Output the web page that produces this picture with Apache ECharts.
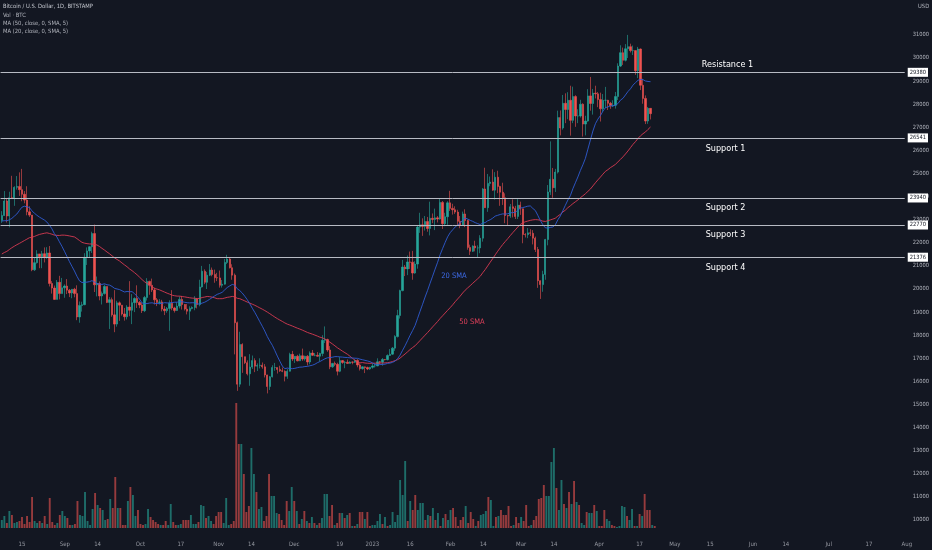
<!DOCTYPE html>
<html>
<head>
<meta charset="utf-8">
<script src="https://cdn.jsdelivr.net/npm/echarts/dist/echarts.min.js"></script>
<style>
html,body{margin:0;padding:0;background:#131722;}
#chart{width:932px;height:550px;}
</style>
</head>
<body>
<div id="chart"></div>
<script>
// ---------- DATA ----------
// x axis: one category per day, from 2022-08-07 for 361 days (to 2023-08-02)
const startDate = [2022, 7, 7];
const dayCount = 361;

// closes before the first visible candle (2022-06-17 .. 2022-08-06), used only for the moving averages
const preCloses = [20450,19000,20550,20710,20000,19990,21090,21230,21490,21040,20730,20280,20100,19930,
  19290,19250,19300,20230,20190,20550,21630,21590,21590,20840,19960,19330,20220,20580,20830,21190,20780,
  22480,23390,23230,23160,22680,22460,22580,21310,21250,22950,23850,23780,23640,23300,
  23270,22990,22820,22630,23310,22960];

// daily candles [open, close, low, high]
const aug22 = [[22960,23180,22860,23370],[23180,23810,23160,24240],[23810,23160,22880,23930],[23160,23950,22670,24210],
  [23950,23930,23900,24900],[23930,24400,23600,24450],[24400,24440,24300,24890],[24440,24300,24030,25050],
  [24300,24100,23800,25200],[24100,23850,23710,24240],[23850,23340,23190,24450],[23340,23200,23120,23580],
  [23200,20830,20770,23200],[20830,21140,20780,21370],[21140,21520,21100,21680],[21520,21400,20900,21520],
  [21400,21530,20900,21650],[21530,21370,21150,21800],[21370,21560,21310,21810],[21560,20240,20110,21860],
  [20240,20040,19800,20340],[20040,19550,19540,20150],[19550,20290,19550,20390],[20290,19800,19550,20570],
  [19800,20050,19800,20480]];
const sep22 = [[20050,20130,19620,20200],[20130,19950,19780,20430],[19950,19830,19650,20000],[19830,19990,19600,20000],
  [19990,19800,19640,20050],[19800,18790,18650,20160],[18790,19290,18540,19460],[19290,19320,19020,19450],
  [19320,21370,19300,21550],[21370,21650,21040,21800],[21650,21830,21370,21850],[21830,22400,21560,22480],
  [22400,20180,19870,22790],[20180,20240,19680,20540],[20240,19700,19510,20330],[19700,19800,19330,19890],
  [19800,20110,19760,20190],[20110,19420,19390,20110],[19420,19540,18270,19650],[19540,18880,18800,19630],
  [18880,18480,18130,19950],[18480,19400,18370,19490],[19400,19300,18620,19460],[19300,18920,18850,19310],
  [18920,18800,18630,19180],[18800,19220,18680,19300],[19220,19080,18820,20340],[19080,19410,18480,19780],
  [19410,19590,19000,19640],[19590,19420,19180,20160]];
const oct22 = [[19420,19310,19170,19480],[19310,19060,18960,19400],[19060,19630,19000,19700],[19630,20330,19500,20470],
  [20330,20160,19750,20360],[20160,19960,19870,20450],[19960,19530,19330,20060],[19530,19420,19260,19610],
  [19420,19440,19330,19560],[19440,19130,19030,19530],[19130,19060,18870,19260],[19060,19160,18970,19220],
  [19160,19380,18190,19510],[19380,19180,19080,19950],[19180,19070,18980,19230],[19070,19260,19050,19420],
  [19260,19550,19160,19680],[19550,19330,19110,19700],[19330,19130,19070,19350],[19130,19040,18900,19350],
  [19040,19160,18660,19250],[19160,19200,19120,19250],[19200,19570,19080,19690],[19570,19330,19160,19600],
  [19330,20090,19250,20400],[20090,20770,20060,21000],[20770,20290,20210,20850],[20290,20600,20000,20740],
  [20600,20820,20560,21080],[20820,20630,20550,20930],[20630,20490,20270,20840]];
const nov22 = [[20490,20480,20340,20700],[20480,20160,20060,20800],[20160,20210,20060,20390],[20210,21150,20190,21300],
  [21150,21300,21080,21480],[21300,20920,20890,21370],[20920,20600,20400,21070],[20600,18540,17170,20670],
  [18540,15880,15590,18590],[15880,17600,15760,18150],[17600,17070,16370,17650],[17070,16810,16750,17070],
  [16810,16330,16260,16910],[16330,16620,15810,17180],[16620,16900,16540,17120],[16900,16660,16400,17000],
  [16660,16690,16450,16780],[16690,16700,16560,17000],[16700,16630,16550,16820],[16630,16280,16170,16750],
  [16280,15780,15480,16290],[15780,16200,15630,16230],[16200,16600,16170,16700],[16600,16600,16460,16800],
  [16600,16520,16340,16600],[16520,16460,16410,16680],[16460,16440,16400,16600],[16440,16220,16000,16480],
  [16220,16440,16110,16530],[16440,17170,16430,17240]];
const dec22 = [[17170,16970,16880,17320],[16970,17090,16800,17100],[17090,16890,16870,17150],[16890,17110,16880,17200],
  [17110,16970,16890,17420],[16970,17090,16900,17110],[17090,16840,16690,17140],[16840,17230,16740,17300],
  [17230,17130,17100,17360],[17130,17130,17090,17230],[17130,17090,17070,17270],[17090,17210,16870,17240],
  [17210,17780,17090,18000],[17780,17810,17660,18380],[17810,17360,17280,17850],[17360,16630,16530,17530],
  [16630,16780,16590,16800],[16780,16740,16660,16860],[16740,16440,16260,16810],[16440,16900,16400,17050],
  [16900,16820,16760,16920],[16820,16830,16570,16880],[16830,16780,16770,16950],[16780,16840,16780,16870],
  [16840,16830,16740,16860],[16830,16910,16800,16940],[16910,16710,16610,16960],[16710,16550,16470,16780],
  [16550,16630,16510,16650],[16630,16600,16360,16640],[16600,16540,16490,16640]];
const jan23 = [[16540,16610,16500,16630],[16610,16670,16550,16780],[16670,16670,16600,16770],[16670,16850,16660,17000],
  [16850,16830,16750,16880],[16830,16950,16680,17010],[16950,16940,16910,16970],[16940,17120,16910,17170],
  [17120,17180,17100,17400],[17180,17440,17150,17490],[17440,17940,17320,18000],[17940,18850,17900,19100],
  [18850,19930,18720,19970],[19930,20950,19900,21260],[20950,20870,20560,21040],[20870,21170,20600,21450],
  [21170,21160,20870,21620],[21160,20690,20400,21650],[20690,21080,20660,21200],[21080,22680,20880,22750],
  [22680,22780,22430,23300],[22780,22710,22300,23060],[22710,22920,22530,23160],[22920,22620,22480,23120],
  [22620,23060,22320,23780],[23060,23010,22850,23270],[23010,23080,22550,23480],[23080,23030,22880,23160],
  [23030,23750,23000,23930],[23750,22830,22600,23810],[22830,23130,22720,23300]];
const feb23 = [[23130,23730,22780,23800],[23730,23490,23380,24250],[23490,23430,23220,23690],[23430,23330,23250,23580],
  [23330,22930,22760,23430],[22930,22760,22630,23160],[22760,23250,22750,23350],[23250,22960,22680,23450],
  [22960,21800,21700,23000],[21800,21630,21470,21920],[21630,21860,21600,21890],[21860,21780,21630,22090],
  [21780,21780,21370,21890],[21780,22200,21550,22330],[22200,24330,22050,24370],[24330,23520,23510,25250],
  [23520,24570,23340,24980],[24570,24630,24450,24870],[24630,24280,24250,25180],[24280,24840,23870,25060],
  [24840,24440,24150,25120],[24440,24190,23600,24470],[24190,23950,23640,24600],[23950,23180,22850,24140],
  [23180,23160,22740,23200],[23160,23560,23080,23680],[23560,23490,23100,23880],[23490,23140,23030,23600]];
const mar23 = [[23140,23630,23030,23890],[23630,23470,23210,23780],[23470,22360,21980,23480],[22360,22350,22230,22420],
  [22350,22430,22200,22640],[22430,22410,22290,22590],[22410,22200,21930,22550],[22200,21710,21600,22270],
  [21710,20360,20050,21820],[20360,20190,19570,20370],[20190,20630,19880,20790],[20630,22140,20400,22170],
  [22140,24200,21890,24500],[24200,24750,24070,26390],[24750,24380,23950,25240],[24380,25060,24200,25200],
  [25060,27420,25000,27720],[27420,26970,26650,27730],[26970,28040,26900,28400],[28040,27770,27180,28470],
  [27770,28170,27350,28520],[28170,27300,26640,28800],[27300,28330,27180,28760],[28330,27490,27020,28390],
  [27490,27490,27180,27780],[27490,28000,27420,28190],[28000,27140,26600,28040],[27140,27270,26650,27500],
  [27270,28360,27240,28650],[28360,28030,27720,29180],[28030,28480,27550,28660]];
const apr23 = [[28480,28450,28250,28800],[28450,28200,27870,28530],[28200,27800,27250,28500],[27800,28170,27670,28440],
  [28170,28170,27830,28750],[28170,28040,27750,28190],[28040,27930,27800,28100],[27930,27950,27880,28170],
  [27950,28330,27810,28530],[28330,29650,28180,29770],[29650,30230,29610,30550],[30230,29900,29700,30450],
  [29900,30400,29850,30600],[30400,30490,30000,31000],[30490,30320,30240,30620],[30320,30320,30130,30540],
  [30320,29450,29270,30320],[29450,30390,29130,30480],[30390,28820,28610,30410],[28820,28250,28020,29100],
  [28250,27270,27140,28380],[27270,27820,27150,27880],[27820,27590,27340,27830]];

// daily volume (same days as the candles)
const volAug22 = [8,12,5,17,13,5,6,7,11,4,12,6,31,7,5,7,5,12,4,30,6,3,5,13,17];
const volSep22 = [12,10,3,3,4,27,13,12,36,7,3,19,35,23,20,18,8,9,29,20,51,20,20,3,3,27,41,33,12,18];
const volOct22 = [4,3,4,19,11,8,6,4,3,3,7,3,24,6,3,3,4,8,8,8,13,4,4,6,23,22,10,12,7,4,12];
const volNov22 = [16,16,5,30,3,4,7,125,84,84,54,16,22,80,54,36,19,21,7,12,54,32,32,15,14,8,3,27,17,41];
const volDec22 = [27,17,4,9,17,7,5,11,5,3,5,10,34,34,12,23,3,5,15,15,10,13,15,2,2,4,16,16,9,16,2];
const volJan23 = [3,3,7,14,4,11,2,3,16,6,13,48,33,67,7,27,18,33,18,25,25,8,13,12,20,8,15,2,10,14,8];
const volFeb23 = [18,20,11,2,8,11,22,5,16,9,2,7,13,14,17,31,28,2,11,12,18,13,13,22,2,3,11,5];
const volMar23 = [11,7,23,2,3,8,12,29,30,43,32,32,66,80,40,18,48,24,20,36,24,47,26,23,5,3,16,15,15,23,17];
const volApr23 = [2,2,18,9,7,3,2,1,2,22,21,12,8,19,2,2,14,12,34,18,18,3,2];
const volumeScale = 100; // volume units (hundreds of BTC)

// horizontal support / resistance levels
const levels = [29380, 26541, 23940, 22770, 21376];
const levelNames = ['Resistance 1', 'Support 1', 'Support 2', 'Support 3', 'Support 4'];

// x axis tick labels
const tickDates = ['2022-08-15','2022-09-01','2022-09-14','2022-10-01','2022-10-17','2022-11-01','2022-11-14',
  '2022-12-01','2022-12-19','2023-01-01','2023-01-16','2023-02-01','2023-02-14','2023-03-01','2023-03-14',
  '2023-04-01','2023-04-17','2023-05-01','2023-05-15','2023-06-01','2023-06-14','2023-07-01','2023-07-17','2023-08-01'];
const tickTexts = ['15','Sep','14','Oct','17','Nov','14','Dec','19','2023','16','Feb','14','Mar','14',
  'Apr','17','May','15','Jun','14','Jul','17','Aug'];

// price axis
const priceMin = 9000, priceMax = 32500, priceStep = 1000;
const priceLabelMin = 10000, priceLabelMax = 31000;

// ---------- BUILD ----------
const cats = [];
const t0 = Date.UTC(startDate[0], startDate[1], startDate[2]);
for (let k = 0; k < dayCount; k++) cats.push(new Date(t0 + k * 86400000).toISOString().slice(0, 10));

const ohlc = [].concat(aug22, sep22, oct22, nov22, dec22, jan23, feb23, mar23, apr23);
const vols = [].concat(volAug22, volSep22, volOct22, volNov22, volDec22, volJan23, volFeb23, volMar23, volApr23);

const allCloses = preCloses.concat(ohlc.map(d => d[1]));
function sma(n) {
  const off = preCloses.length;
  return ohlc.map((d, k) => {
    const end = off + k;
    let s = 0;
    for (let j = end - n + 1; j <= end; j++) s += allCloses[j];
    return +(s / n).toFixed(1);
  });
}
const sma20 = sma(20), sma50 = sma(50);

const UP = '#26a69a', DOWN = '#ef5350';
const volData = vols.map((v, k) => ({
  value: v * volumeScale,
  itemStyle: { color: ohlc[k][1] >= ohlc[k][0] ? 'rgba(38,166,154,0.6)' : 'rgba(239,83,80,0.6)' }
}));

const tickMap = {};
tickDates.forEach((d, i) => tickMap[d] = tickTexts[i]);

const FONT = "'Liberation Sans Narrow','DejaVu Sans Condensed','Liberation Sans',sans-serif";

const gridLeft = 0.57, gridRight = 21.4;
const chart = echarts.init(document.getElementById('chart'));
chart.setOption({
  animation: false,
  backgroundColor: '#131722',
  textStyle: { fontFamily: FONT },
  grid: [
    { left: gridLeft, right: gridRight, top: 0.25, bottom: 6.9 },
    { left: gridLeft, right: gridRight, top: 400, bottom: 22 }
  ],
  xAxis: [
    { type: 'category', gridIndex: 0, data: cats, boundaryGap: true,
      axisLine: { show: false }, axisTick: { show: false }, axisLabel: { show: false }, splitLine: { show: false } },
    { type: 'category', gridIndex: 1, data: cats, boundaryGap: true,
      axisLine: { show: false }, axisTick: { show: false }, splitLine: { show: false },
      axisLabel: { show: true, color: '#9598a1', fontSize: 6, fontFamily: FONT, margin: 13,
        interval: (idx, val) => tickMap[val] !== undefined,
        formatter: val => tickMap[val] || '' } }
  ],
  yAxis: [
    { type: 'value', gridIndex: 0, position: 'right', min: priceMin, max: priceMax, interval: priceStep,
      axisLine: { show: false }, axisTick: { show: false }, splitLine: { show: false },
      axisLabel: { color: '#b2b5be', fontSize: 5.7, fontFamily: FONT, margin: 8,
        formatter: v => (v < priceLabelMin || v > priceLabelMax) ? '' : String(v) } },
    { type: 'value', gridIndex: 1, min: 0, max: 12800, show: false, splitLine: { show: false } }
  ],
  series: [
    { type: 'bar', xAxisIndex: 1, yAxisIndex: 1, data: volData, barWidth: 1.9, z: 1, silent: true },
    { type: 'candlestick', xAxisIndex: 0, yAxisIndex: 0, data: ohlc, barWidth: 1.8, z: 3,
      itemStyle: { color: UP, color0: DOWN, borderColor: UP, borderColor0: DOWN, borderWidth: 0.6 },
      markLine: {
        silent: true, symbol: ['none', 'none'], animation: false,
        lineStyle: { color: '#b8bbc4', width: 1, type: 'solid' },
        label: { show: true, position: 'end', distance: 3, formatter: p => String(p.value),
          backgroundColor: '#ffffff', color: '#131722', fontSize: 5.7, fontFamily: FONT, padding: [1.5, 2] },
        data: levels.map(v => ({ yAxis: v }))
      } },
    { type: 'line', xAxisIndex: 0, yAxisIndex: 0, data: sma50, showSymbol: false, z: 4,
      lineStyle: { color: '#d83a52', width: 0.9 } },
    { type: 'line', xAxisIndex: 0, yAxisIndex: 0, data: sma20, showSymbol: false, z: 4,
      lineStyle: { color: '#2f5bd3', width: 0.9 } }
  ],
  graphic: [
    { type: 'text', x: 3, y: 6.3, style: { text: 'Bitcoin / U.S. Dollar, 1D, BITSTAMP', fill: '#c3c6ce', font: "5.8px " + FONT, textVerticalAlign: 'middle' } },
    { type: 'text', x: 3, y: 15.3, style: { text: 'Vol · BTC', fill: '#b2b5be', font: "5.8px " + FONT, textVerticalAlign: 'middle' } },
    { type: 'text', x: 3, y: 23.7, style: { text: 'MA (50, close, 0, SMA, 5)', fill: '#b2b5be', font: "5.8px " + FONT, textVerticalAlign: 'middle' } },
    { type: 'text', x: 3, y: 31.7, style: { text: 'MA (20, close, 0, SMA, 5)', fill: '#b2b5be', font: "5.8px " + FONT, textVerticalAlign: 'middle' } },
    { type: 'text', x: 918, y: 6.5, style: { text: 'USD', fill: '#b2b5be', font: "5.8px " + FONT, textVerticalAlign: 'middle' } },
    { type: 'text', x: 727.5, y: 64.7, style: { text: levelNames[0], fill: '#ffffff', font: "9px " + FONT, textAlign: 'center', textVerticalAlign: 'middle' } },
    { type: 'text', x: 725.5, y: 148.7, style: { text: levelNames[1], fill: '#ffffff', font: "9px " + FONT, textAlign: 'center', textVerticalAlign: 'middle' } },
    { type: 'text', x: 725.5, y: 207.5, style: { text: levelNames[2], fill: '#ffffff', font: "9px " + FONT, textAlign: 'center', textVerticalAlign: 'middle' } },
    { type: 'text', x: 725.5, y: 234.5, style: { text: levelNames[3], fill: '#ffffff', font: "9px " + FONT, textAlign: 'center', textVerticalAlign: 'middle' } },
    { type: 'text', x: 725.5, y: 267.5, style: { text: levelNames[4], fill: '#ffffff', font: "9px " + FONT, textAlign: 'center', textVerticalAlign: 'middle' } },
    { type: 'text', x: 454, y: 276, style: { text: '20 SMA', fill: '#3d6be8', font: "7.5px " + FONT, textAlign: 'center', textVerticalAlign: 'middle' } },
    { type: 'text', x: 472, y: 322, style: { text: '50 SMA', fill: '#e0405a', font: "7.5px " + FONT, textAlign: 'center', textVerticalAlign: 'middle' } }
  ]
});
</script>
</body>
</html>
